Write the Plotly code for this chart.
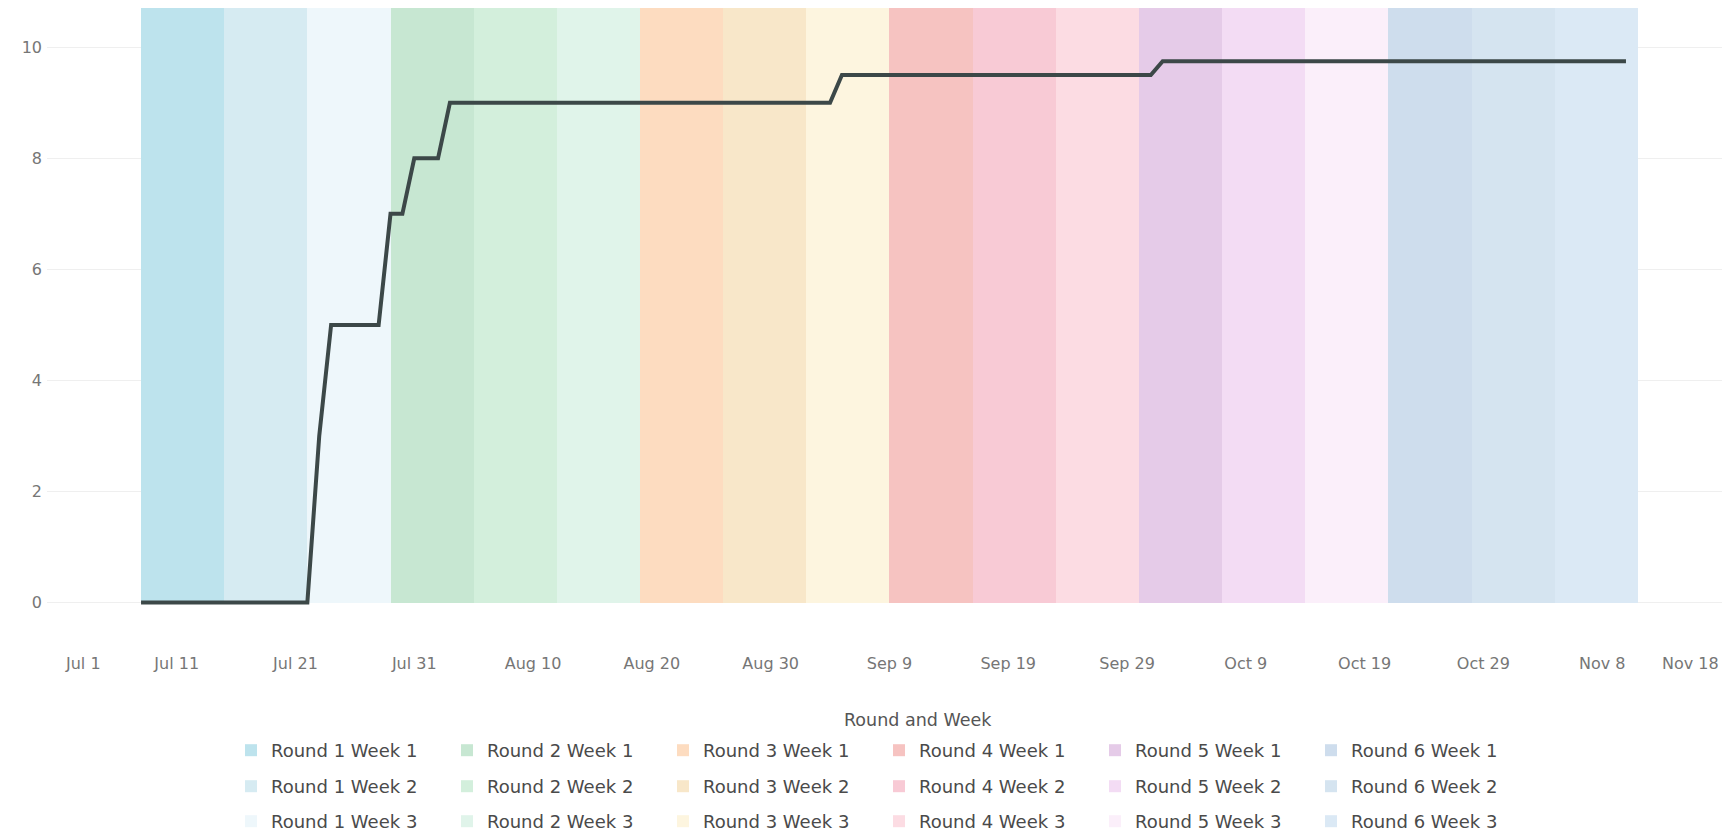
import plotly.graph_objects as go

# ---------------- data ----------------
round_week = [
    "Round 1 Week 1", "Round 1 Week 2", "Round 1 Week 3",
    "Round 2 Week 1", "Round 2 Week 2", "Round 2 Week 3",
    "Round 3 Week 1", "Round 3 Week 2", "Round 3 Week 3",
    "Round 4 Week 1", "Round 4 Week 2", "Round 4 Week 3",
    "Round 5 Week 1", "Round 5 Week 2", "Round 5 Week 3",
    "Round 6 Week 1", "Round 6 Week 2", "Round 6 Week 3",
]
week_starts = [
    "2021-07-08", "2021-07-15", "2021-07-22",
    "2021-07-29", "2021-08-05", "2021-08-12",
    "2021-08-19", "2021-08-26", "2021-09-02",
    "2021-09-09", "2021-09-16", "2021-09-23",
    "2021-09-30", "2021-10-07", "2021-10-14",
    "2021-10-21", "2021-10-28", "2021-11-04",
]
week_days = 7
band_top = 10.71

band_colors = [
    "#bde3ed", "#d6ebf2", "#eef7fb",
    "#c7e7d2", "#d3efdc", "#e0f4ea",
    "#fddcc0", "#f8e7c9", "#fdf5df",
    "#f6c3c1", "#f8cad5", "#fcdce3",
    "#e5cbe8", "#f3dcf4", "#fbeffa",
    "#cedded", "#d5e4f0", "#dbe9f5",
]

line_dates = [
    "2021-07-08", "2021-07-22", "2021-07-23", "2021-07-24", "2021-07-28",
    "2021-07-29", "2021-07-30", "2021-07-31", "2021-08-02", "2021-08-03",
    "2021-09-04", "2021-09-05", "2021-10-01", "2021-10-02", "2021-11-10",
]
line_values = [0, 0, 3, 5, 5, 7, 7, 8, 8, 9, 9, 9.5, 9.5, 9.75, 9.75]

tick_dates = [
    "2021-07-01", "2021-07-11", "2021-07-21", "2021-07-31", "2021-08-10",
    "2021-08-20", "2021-08-30", "2021-09-09", "2021-09-19", "2021-09-29",
    "2021-10-09", "2021-10-19", "2021-10-29", "2021-11-08", "2021-11-18",
]
tick_labels = [
    "Jul 1", "Jul 11", "Jul 21", "Jul 31", "Aug 10", "Aug 20", "Aug 30",
    "Sep 9", "Sep 19", "Sep 29", "Oct 9", "Oct 19", "Oct 29", "Nov 8", "Nov 18",
]
y_ticks = [0, 2, 4, 6, 8, 10]
legend_title = "Round and Week"

# ---------------- figure ----------------
FONT = "DejaVu Sans"
TICK_COLOR = "#767676"
W, H = 1724, 834
ML, MR, MT, MB = 47, 2, 8, 219

fig = go.Figure()

day_ms = 24 * 3600 * 1000
legend_ids = ["legend", "legend2", "legend3"]
for i, (name, start, col) in enumerate(zip(round_week, week_starts, band_colors)):
    fig.add_trace(go.Bar(
        x=[start], y=[band_top], base=0,
        width=week_days * day_ms, offset=0,
        marker=dict(color=col, line=dict(width=0)),
        name=name, legend=legend_ids[i % 3],
        hoverinfo="name",
    ))

fig.add_trace(go.Scatter(
    x=line_dates, y=line_values, mode="lines",
    line=dict(color="#3c4848", width=4),
    showlegend=False, hoverinfo="x+y",
))

# dotted zero line
fig.add_shape(type="line", xref="paper", x0=0, x1=1, yref="y", y0=0, y1=0,
              line=dict(color="#a8a8a8", width=1, dash="dot"), layer="below")

tick_font = dict(family=FONT, size=16, color=TICK_COLOR)

fig.update_xaxes(
    type="date",
    range=["2021-06-30 02:00", "2021-11-18 02:00"],
    tickvals=tick_dates[1:-1], ticktext=tick_labels[1:-1],
    showgrid=False, zeroline=False, showline=False, ticks="",
    tickfont=tick_font, ticklabelstandoff=37,
)
fig.update_yaxes(
    range=[-0.225, 10.708],
    tickvals=y_ticks, ticktext=[str(v) for v in y_ticks],
    showgrid=True, gridcolor="#efefef", gridwidth=1,
    zeroline=False, showline=False, ticks="",
    tickfont=tick_font, ticklabelstandoff=4,
)

# edge tick labels (Tableau shifts them inside the axis span)
fig.add_annotation(x=tick_dates[0], y=0, xref="x", yref="paper", text=tick_labels[0],
                   showarrow=False, xanchor="left", yanchor="middle", xshift=5,
                   yshift=-48, font=tick_font)
fig.add_annotation(x=tick_dates[-1], y=0, xref="x", yref="paper", text=tick_labels[-1],
                   showarrow=False, xanchor="right", yanchor="middle", xshift=0,
                   yshift=-48, font=tick_font)

# legend title
fig.add_annotation(x=(918 - ML) / (W - ML - MR), y=(H - MB - 720) / (H - MT - MB),
                   xref="paper", yref="paper", text=legend_title, showarrow=False,
                   xanchor="center", yanchor="middle",
                   font=dict(family=FONT, size=17.5, color="#555555"))

leg_font = dict(family=FONT, size=18, color="#4a4a4a")
row_y = [750, 786, 821]
legend_layout = {}
for k, lid in enumerate(legend_ids):
    legend_layout[lid] = dict(
        orientation="h", xref="container", yref="container",
        x=231 / W, y=1 - (row_y[k] - 18) / H, xanchor="left", yanchor="top",
        entrywidth=171, entrywidthmode="pixels",
        font=leg_font, bgcolor="rgba(0,0,0,0)", borderwidth=0,
        traceorder="normal",
    )

fig.update_layout(
    width=W, height=H,
    margin=dict(l=ML, r=MR, t=MT, b=MB, pad=0),
    plot_bgcolor="white", paper_bgcolor="white",
    barmode="overlay", bargap=0,
    font=dict(family=FONT),
    showlegend=True,
    **legend_layout,
)

fig.write_html("out.html", config={"displayModeBar": False},
               post_script="document.body.style.margin='0';document.body.style.padding='0';")
